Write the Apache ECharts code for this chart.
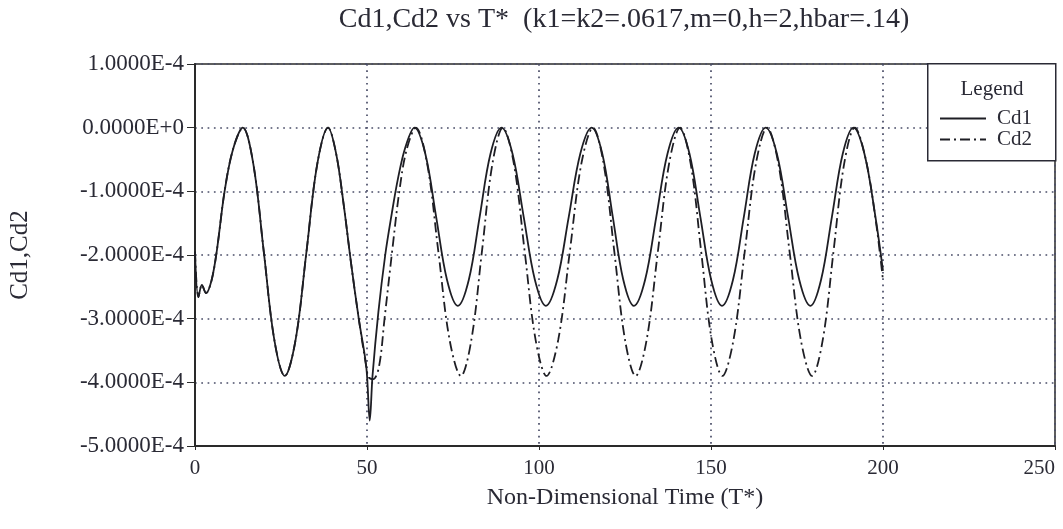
<!DOCTYPE html>
<html>
<head>
<meta charset="utf-8">
<script src="https://cdn.jsdelivr.net/npm/echarts@6/dist/echarts.min.js"></script>
<style>
html,body{margin:0;padding:0;background:#fff;}
#chart{width:1063px;height:529px;}
</style>
</head>
<body>
<div id="chart"></div>
<script>
// Values are in units of 1e-4 (converted when the series are built)
var UNIT = 1e-4;

var timeCd1 = [0,1.0,2.0,3.2,4.8,6.3,8.6,11.0,13.9,16.95,20.0,23.05,26.1,29.25,32.4,35.55,38.7,
  41.0,43.2,45.3,47.6,49.8,50.8,51.6,53.3,55.3,57.2,59.0,61.2,63.8,
  66.95,70.1,73.25,76.4,79.6,82.75,85.9,89.1,
  92.3,95.55,98.8,102.0,105.3,108.65,112.0,115.3,
  118.4,121.45,124.5,127.6,130.85,134.1,137.35,140.6,
  143.75,146.9,150.05,153.2,156.4,159.55,162.7,165.9,
  169.15,172.4,175.65,178.9,182.0,185.15,188.3,191.4,
  194.6,197.8,200];
var valCd1 = [-1.95,-2.66,-2.47,-2.6,-2.4,-1.95,-1.0,-0.35,0,-0.57,-1.95,-3.33,-3.9,-3.33,-1.95,-0.57,0,
  -0.4,-1.2,-2.1,-3.0,-3.76,-4.6,-3.9,-2.9,-2.0,-1.35,-0.8,-0.3,0,
  -0.41,-1.4,-2.39,-2.8,-2.39,-1.4,-0.41,0,
  -0.41,-1.4,-2.39,-2.8,-2.39,-1.4,-0.41,0,
  -0.41,-1.4,-2.39,-2.8,-2.39,-1.4,-0.41,0,
  -0.41,-1.4,-2.39,-2.8,-2.39,-1.4,-0.41,0,
  -0.41,-1.4,-2.39,-2.8,-2.39,-1.4,-0.41,0,
  -0.41,-1.4,-2.25];

var timeCd2 = [0,1.0,2.0,3.2,4.8,6.3,8.6,11.0,13.9,16.95,20.0,23.05,26.1,29.25,32.4,35.55,38.7,
  41.0,43.2,45.3,47.6,49.8,50.5,51.8,53.5,55.1,57.4,59.4,61.5,64.2,
  67.5,70.75,74.0,77.3,80.35,83.4,86.45,89.5,
  92.7,95.85,99.0,102.2,105.6,108.95,112.3,115.7,
  118.8,121.9,125.0,128.1,131.3,134.55,137.8,141.0,
  144.1,147.15,150.2,153.3,156.55,159.8,163.05,166.3,
  169.6,172.85,176.1,179.4,182.5,185.6,188.7,191.8,
  195.0,198.0,200];
var valCd2 = [-1.95,-2.66,-2.47,-2.6,-2.4,-1.95,-1.0,-0.35,0,-0.57,-1.95,-3.33,-3.9,-3.33,-1.95,-0.57,0,
  -0.4,-1.2,-2.1,-3.0,-3.76,-3.92,-3.95,-3.75,-3.0,-1.9,-1.0,-0.35,0,
  -0.57,-1.95,-3.33,-3.9,-3.33,-1.95,-0.57,0,
  -0.57,-1.95,-3.33,-3.9,-3.33,-1.95,-0.57,0,
  -0.57,-1.95,-3.33,-3.9,-3.33,-1.95,-0.57,0,
  -0.57,-1.95,-3.33,-3.9,-3.33,-1.95,-0.57,0,
  -0.57,-1.95,-3.33,-3.9,-3.33,-1.95,-0.57,0,
  -0.5,-1.5,-2.4];

var xTicks = [0,50,100,150,200,250];
var yTicks = [-5,-4,-3,-2,-1,0,1];

var FONT = '"Liberation Serif","DejaVu Serif",serif';
var TXT = '#2a2a35';

function pairs(ts, vs){ return ts.map(function(t,i){ return [t, vs[i]*UNIT]; }); }

var chart = echarts.init(document.getElementById('chart'), null, {renderer:'canvas'});
chart.setOption({
  backgroundColor:'#ffffff',
  animation:false,
  grid:{left:195, right:8, top:64, bottom:83, show:true, borderColor:'#2a2a2a', borderWidth:1.5,
        backgroundColor:'transparent', outerBoundsMode:'none', containLabel:false},
  xAxis:{
    type:'value', min:xTicks[0], max:xTicks[xTicks.length-1], interval:50,
    name:'Non-Dimensional Time (T*)', nameLocation:'middle', nameGap:40,
    nameTextStyle:{fontFamily:FONT, fontSize:24, color:TXT},
    axisLine:{show:true, onZero:false, lineStyle:{color:'#2a2a2a', width:2}},
    axisTick:{show:true, length:4, lineStyle:{color:'#2a2a2a'}},
    axisLabel:{fontFamily:FONT, fontSize:21, color:TXT, margin:12, alignMaxLabel:'right'},
    splitLine:{show:true, lineStyle:{color:'#4a4e68', width:1.7, type:[1.7,4.6]}}
  },
  yAxis:{
    type:'value', min:yTicks[0]*UNIT, max:yTicks[yTicks.length-1]*UNIT, interval:UNIT,
    name:'Cd1,Cd2', nameLocation:'middle', nameGap:162, nameRotate:90,
    nameTextStyle:{fontFamily:FONT, fontSize:25, color:TXT},
    axisLine:{show:true, onZero:false, lineStyle:{color:'#2a2a2a', width:2}},
    axisTick:{show:true, length:8, lineStyle:{color:'#2a2a2a'}},
    axisLabel:{fontFamily:FONT, fontSize:23, color:TXT, margin:11,
      formatter:function(v){ var s = Number(v).toExponential(4).toUpperCase(); if (s.charAt(0)==='-' && Math.abs(v)<1e-12) s = s.slice(1); return s; }},
    splitLine:{show:true, lineStyle:{color:'#4a4e68', width:1.7, type:[1.7,4.6]}}
  },
  legend:{
    orient:'vertical', left:939, top:108, padding:0, itemWidth:46, itemHeight:10, itemGap:0, z:10,
    itemStyle:{opacity:0},
    textStyle:{fontFamily:FONT, fontSize:21, color:TXT, lineHeight:20, padding:[0,0,0,6]},
    data:['Cd1','Cd2']
  },
  graphic:[
    {type:'text', x:624, y:20, z:101,
     style:{text:'Cd1,Cd2 vs T*  (k1=k2=.0617,m=0,h=2,hbar=.14)', font:'28px "Liberation Serif"', fill:TXT,
            textAlign:'center', textVerticalAlign:'middle'}},
    {type:'rect', left:927, top:63, shape:{width:128, height:97}, z:3,
     style:{fill:'#ffffff', stroke:'#2a2a35', lineWidth:1.5}},
    {type:'text', x:992, y:89, z:101,
     style:{text:'Legend', font:'21px "Liberation Serif"', fill:TXT, textAlign:'center', textVerticalAlign:'middle'}}
  ],
  series:[
    {name:'Cd1', type:'line', data:pairs(timeCd1, valCd1), smooth:0.35, symbol:'none',
     lineStyle:{color:'#1e1e24', width:1.8, type:'solid'}, itemStyle:{color:'#1e1e24'}},
    {name:'Cd2', type:'line', data:pairs(timeCd2, valCd2), smooth:0.35, symbol:'none',
     lineStyle:{color:'#1e1e24', width:1.8, type:[10,4,2,4]}, itemStyle:{color:'#1e1e24'}}
  ]
});
</script>
</body>
</html>
